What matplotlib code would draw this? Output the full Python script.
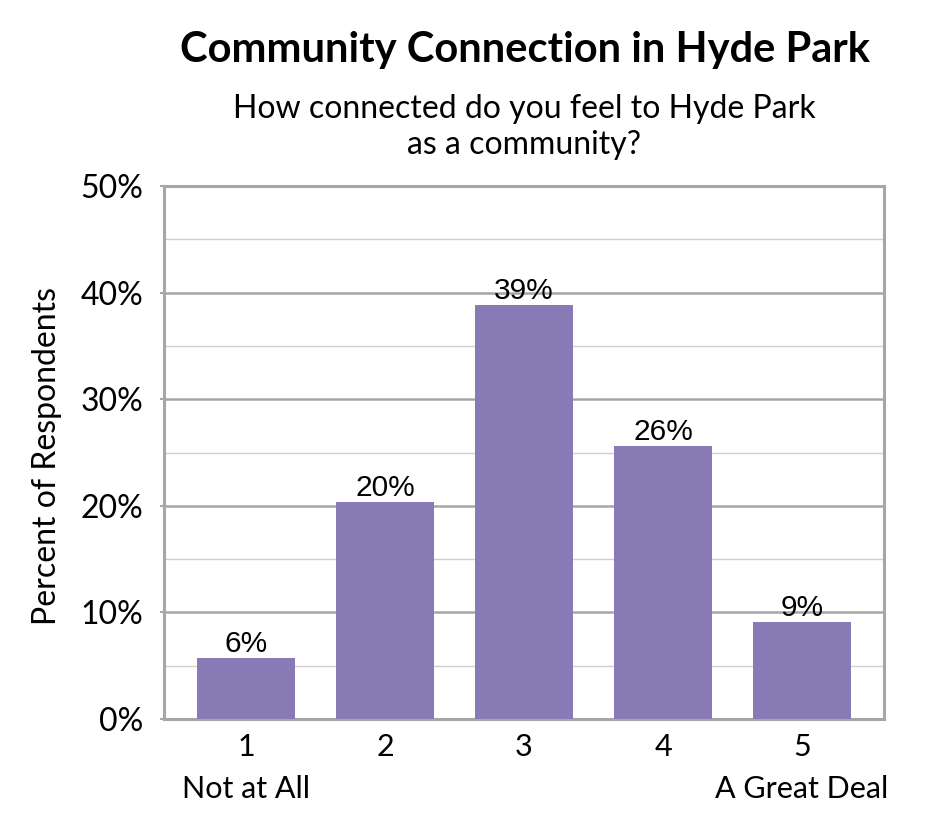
import numpy as np
import matplotlib
matplotlib.use("Agg")
import matplotlib.pyplot as plt
from matplotlib.ticker import MultipleLocator, PercentFormatter

# data
categories = ["1", "2", "3", "4", "5"]
values = [5.7, 20.4, 38.8, 25.6, 9.1]
bar_labels = ["6%", "20%", "39%", "26%", "9%"]
end_labels = {0: "Not at All", 4: "A Great Deal"}

title = "Community Connection in Hyde Park"
subtitle = "How connected do you feel to Hyde Park\nas a community?"
ylabel = "Percent of Respondents"

BAR_COLOR = "#877ab5"
MAJOR_GRID = "#a6a6a6"
MINOR_GRID = "#cfcfcf"
CAL = ["Lato", "DejaVu Sans"]
ARIAL = ["Liberation Sans", "DejaVu Sans"]

W, H = 945, 840
fig = plt.figure(figsize=(W / 100, H / 100), dpi=100)
ax = fig.add_axes([164 / W, 1 - 719 / H, (884 - 164) / W, (719 - 186) / H])

x = np.arange(1, len(categories) + 1)
ax.bar(x, values, width=0.70, color=BAR_COLOR, zorder=3)

ax.set_xlim(0.41, 5.59)
ax.set_ylim(0, 50)
ax.yaxis.set_major_locator(MultipleLocator(10))
ax.yaxis.set_minor_locator(MultipleLocator(5))
ax.yaxis.set_major_formatter(PercentFormatter(decimals=0))
ax.grid(axis="y", which="major", color=MAJOR_GRID, linewidth=1.8, zorder=1)
ax.grid(axis="y", which="minor", color=MINOR_GRID, linewidth=1.0, zorder=1)
ax.set_axisbelow(True)
for sp in ax.spines.values():
    sp.set_color(MAJOR_GRID)
    sp.set_linewidth(2.2)

ax.tick_params(axis="y", which="major", length=3, color=MAJOR_GRID, width=1.5, pad=12,
               labelsize=23)
ax.tick_params(axis="y", which="minor", length=0)
ax.tick_params(axis="x", length=0, labelbottom=False)
for lbl in ax.get_yticklabels():
    lbl.set_family(CAL)

for xi, v, s in zip(x, values, bar_labels):
    ax.text(xi, v, s, ha="center", va="bottom", fontsize=21.5, family=ARIAL, zorder=4)

# category labels under the axis
for i, (xi, c) in enumerate(zip(x, categories)):
    ax.annotate(c, (xi, 0), xycoords="data", xytext=(0, -28), textcoords="offset pixels",
                ha="center", va="center", fontsize=22, family=CAL)
    if i in end_labels:
        ax.annotate(end_labels[i], (xi, 0), xycoords="data", xytext=(0, -70),
                    textcoords="offset pixels", ha="center", va="center",
                    fontsize=22, family=CAL)

fig.text(47 / W, 1 - 456 / H, ylabel, rotation=90, ha="center", va="center",
         fontsize=23, family=CAL)
fig.text(525 / W, 1 - 50 / H, title, ha="center", va="center", fontsize=30,
         fontweight="bold", family=CAL)
fig.text(524 / W, 1 - 127 / H, subtitle, ha="center", va="center", fontsize=23,
         family=CAL, linespacing=1.25)

fig.savefig("out.png", dpi=100)
